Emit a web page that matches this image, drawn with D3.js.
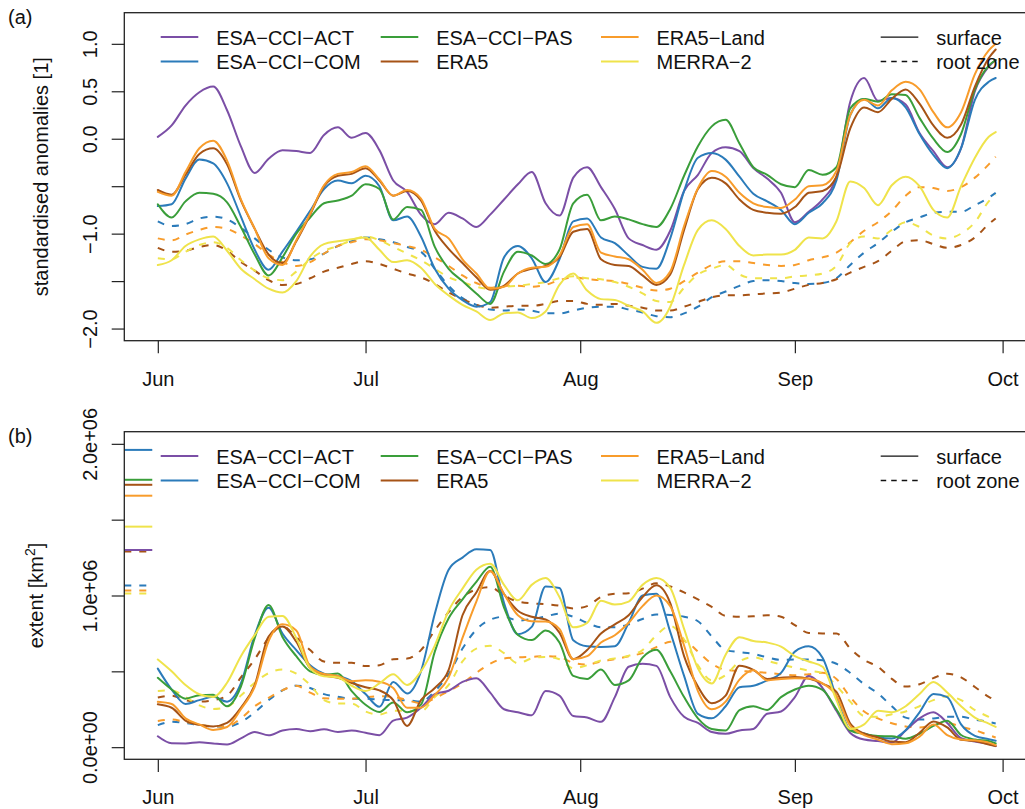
<!DOCTYPE html>
<html lang="en">
<head>
<meta charset="UTF-8">
<title>Soil moisture drought anomalies and extent</title>
<style>
  body { margin: 0; background: #fff; }
  svg { display: block; font-family: "Liberation Sans", Arial, Helvetica, sans-serif; }
</style>
</head>
<body>
<script src="https://cdn.jsdelivr.net/npm/d3@7"></script>
<script>
// days since 1 June (every 2nd day, last point = 30 Sep)
const days = d3.range(0, 121, 2).concat([121]);

const monthTicks = [0, 30, 61, 92, 122];
const monthNames = ["Jun", "Jul", "Aug", "Sep", "Oct"];

const products = ["ESA\u2212CCI\u2212ACT", "ESA\u2212CCI\u2212COM", "ESA\u2212CCI\u2212PAS", "ERA5", "ERA5\u2212Land", "MERRA\u22122"];
const colors = ["#7b4fa6", "#2b7bba", "#3a9e3a", "#a65316", "#f89c2b", "#efe34b"];

// (a) standardised anomalies, surface
const actAnom = [0.02,0.14,0.35,0.49,0.55,0.3,-0.08,-0.36,-0.21,-0.12,-0.13,-0.15,0.04,0.12,0.01,0.06,-0.12,-0.44,-0.56,-0.8,-0.9,-0.78,-0.84,-0.93,-0.8,-0.64,-0.48,-0.35,-0.68,-0.81,-0.41,-0.3,-0.51,-0.74,-1.05,-1.12,-1.17,-0.97,-0.55,-0.38,-0.15,-0.09,-0.13,-0.31,-0.42,-0.57,-0.88,-0.77,-0.64,-0.4,0.39,0.64,0.4,0.43,0.36,0.06,-0.13,-0.3,-0.1,0.5,0.76,0.83];
const comAnom = [-0.71,-0.69,-0.42,-0.22,-0.26,-0.47,-0.82,-1.17,-1.38,-1.19,-0.98,-0.76,-0.53,-0.44,-0.47,-0.39,-0.5,-0.86,-0.82,-1.03,-1.37,-1.58,-1.7,-1.77,-1.72,-1.25,-1.13,-1.26,-1.51,-1.27,-0.87,-0.84,-1.04,-1.1,-1.23,-1.35,-1.37,-1.05,-0.55,-0.2,-0.15,-0.22,-0.4,-0.58,-0.66,-0.75,-0.9,-0.78,-0.68,-0.44,0.25,0.42,0.32,0.43,0.33,0.05,-0.17,-0.31,-0.1,0.41,0.6,0.64];
const pasAnom = [-0.69,-0.83,-0.66,-0.57,-0.58,-0.67,-0.93,-1.22,-1.44,-1.25,-1.0,-0.83,-0.68,-0.65,-0.6,-0.48,-0.53,-0.85,-0.72,-0.75,-1.14,-1.37,-1.5,-1.63,-1.74,-1.4,-1.19,-1.23,-1.32,-1.17,-0.68,-0.59,-0.86,-0.82,-0.85,-0.9,-0.93,-0.74,-0.39,-0.08,0.13,0.2,-0.05,-0.3,-0.38,-0.48,-0.51,-0.33,-0.38,-0.3,0.32,0.42,0.39,0.47,0.46,0.22,0.0,-0.14,0.05,0.52,0.77,0.83];
const era5Anom = [-0.54,-0.59,-0.38,-0.16,-0.1,-0.27,-0.65,-0.95,-1.22,-1.31,-1.08,-0.8,-0.5,-0.39,-0.37,-0.31,-0.44,-0.6,-0.55,-0.65,-0.97,-1.16,-1.31,-1.46,-1.59,-1.55,-1.42,-1.37,-1.34,-1.25,-0.98,-0.95,-1.27,-1.33,-1.34,-1.44,-1.54,-1.43,-0.96,-0.53,-0.41,-0.47,-0.64,-0.75,-0.78,-0.79,-0.72,-0.57,-0.55,-0.4,0.11,0.33,0.28,0.42,0.52,0.37,0.14,0.01,0.15,0.55,0.85,0.94];
const landAnom = [-0.56,-0.6,-0.35,-0.1,-0.02,-0.23,-0.64,-0.95,-1.26,-1.33,-1.07,-0.79,-0.49,-0.37,-0.35,-0.29,-0.43,-0.6,-0.54,-0.63,-0.95,-1.05,-1.27,-1.42,-1.58,-1.56,-1.42,-1.36,-1.35,-1.23,-0.93,-0.9,-1.2,-1.24,-1.27,-1.38,-1.52,-1.4,-0.92,-0.52,-0.34,-0.4,-0.57,-0.68,-0.72,-0.73,-0.64,-0.5,-0.49,-0.34,0.25,0.41,0.35,0.51,0.6,0.52,0.28,0.12,0.28,0.68,0.93,1.0];
const merraAnom = [-1.33,-1.28,-1.13,-1.06,-1.03,-1.18,-1.37,-1.48,-1.58,-1.62,-1.5,-1.24,-1.11,-1.08,-1.06,-1.04,-1.17,-1.3,-1.28,-1.36,-1.53,-1.65,-1.75,-1.82,-1.91,-1.84,-1.83,-1.89,-1.82,-1.54,-1.42,-1.6,-1.69,-1.7,-1.76,-1.82,-1.94,-1.77,-1.33,-0.96,-0.86,-0.95,-1.13,-1.23,-1.22,-1.22,-1.17,-1.04,-1.05,-0.87,-0.45,-0.52,-0.7,-0.49,-0.4,-0.5,-0.75,-0.83,-0.5,-0.2,0.02,0.07];

// (a) standardised anomalies, root zone
const comRootAnom = [-0.87,-0.92,-0.9,-0.84,-0.82,-0.85,-0.94,-1.05,-1.17,-1.25,-1.28,-1.27,-1.21,-1.13,-1.08,-1.04,-1.06,-1.09,-1.14,-1.19,-1.37,-1.55,-1.68,-1.75,-1.8,-1.81,-1.8,-1.81,-1.84,-1.84,-1.81,-1.78,-1.77,-1.77,-1.8,-1.83,-1.87,-1.88,-1.84,-1.77,-1.67,-1.61,-1.55,-1.5,-1.49,-1.5,-1.52,-1.53,-1.52,-1.47,-1.33,-1.2,-1.1,-0.98,-0.88,-0.83,-0.78,-0.77,-0.77,-0.7,-0.62,-0.57];
const era5RootAnom = [-1.15,-1.19,-1.18,-1.14,-1.12,-1.18,-1.3,-1.39,-1.49,-1.54,-1.53,-1.47,-1.4,-1.36,-1.32,-1.29,-1.32,-1.37,-1.42,-1.46,-1.53,-1.62,-1.69,-1.75,-1.78,-1.77,-1.76,-1.76,-1.74,-1.71,-1.71,-1.74,-1.75,-1.74,-1.76,-1.78,-1.81,-1.81,-1.77,-1.72,-1.67,-1.65,-1.65,-1.64,-1.63,-1.62,-1.58,-1.54,-1.52,-1.48,-1.41,-1.35,-1.29,-1.18,-1.08,-1.07,-1.11,-1.15,-1.12,-1.04,-0.9,-0.84];
const landRootAnom = [-1.05,-1.07,-1.01,-0.96,-0.93,-0.95,-1.02,-1.11,-1.22,-1.3,-1.34,-1.3,-1.21,-1.13,-1.09,-1.06,-1.07,-1.1,-1.13,-1.17,-1.25,-1.34,-1.44,-1.52,-1.57,-1.55,-1.55,-1.56,-1.54,-1.49,-1.46,-1.48,-1.49,-1.5,-1.53,-1.57,-1.6,-1.58,-1.5,-1.41,-1.33,-1.29,-1.29,-1.31,-1.33,-1.34,-1.33,-1.28,-1.25,-1.2,-1.09,-0.97,-0.88,-0.76,-0.6,-0.51,-0.52,-0.55,-0.51,-0.41,-0.27,-0.19];
const merraRootAnom = [-1.26,-1.27,-1.19,-1.12,-1.09,-1.15,-1.28,-1.39,-1.47,-1.49,-1.4,-1.27,-1.18,-1.13,-1.07,-1.03,-1.07,-1.14,-1.21,-1.28,-1.37,-1.46,-1.51,-1.56,-1.58,-1.56,-1.55,-1.53,-1.51,-1.47,-1.45,-1.47,-1.48,-1.51,-1.56,-1.63,-1.71,-1.72,-1.57,-1.43,-1.37,-1.33,-1.43,-1.47,-1.47,-1.47,-1.45,-1.44,-1.42,-1.34,-1.1,-1.03,-1.05,-0.96,-0.88,-0.93,-1.02,-1.05,-1.0,-0.88,-0.66,-0.59];

// (b) drought extent, 10^6 km², surface
const actExtent = [0.072,0.026,0.025,0.032,0.024,0.018,0.058,0.1,0.078,0.11,0.12,0.105,0.118,0.1,0.11,0.095,0.079,0.175,0.195,0.26,0.35,0.372,0.43,0.455,0.36,0.25,0.23,0.21,0.37,0.34,0.205,0.195,0.167,0.33,0.53,0.55,0.536,0.33,0.2,0.16,0.1,0.088,0.11,0.12,0.22,0.235,0.33,0.47,0.39,0.24,0.094,0.05,0.04,0.03,0.11,0.19,0.23,0.16,0.06,0.038,0.02,0.007];
const comExtent = [0.518,0.38,0.285,0.31,0.332,0.3,0.42,0.74,0.92,0.749,0.64,0.54,0.485,0.47,0.435,0.35,0.266,0.43,0.354,0.5,0.88,1.17,1.25,1.305,1.3,0.95,0.745,0.793,1.06,1.05,0.705,0.665,0.66,0.665,0.82,1.0,1.012,0.76,0.47,0.22,0.19,0.27,0.395,0.405,0.44,0.49,0.63,0.665,0.59,0.33,0.115,0.09,0.065,0.057,0.112,0.23,0.35,0.33,0.15,0.075,0.053,0.042];
const pasExtent = [0.457,0.38,0.32,0.343,0.345,0.27,0.4,0.72,0.937,0.727,0.6,0.5,0.478,0.485,0.37,0.28,0.232,0.295,0.23,0.28,0.63,0.85,0.975,1.09,1.19,0.92,0.74,0.706,0.77,0.69,0.47,0.45,0.512,0.41,0.44,0.59,0.642,0.5,0.33,0.19,0.12,0.11,0.245,0.27,0.245,0.33,0.38,0.405,0.378,0.25,0.11,0.087,0.073,0.072,0.056,0.088,0.14,0.175,0.08,0.05,0.04,0.024];
const era5Extent = [0.283,0.26,0.175,0.147,0.137,0.16,0.26,0.41,0.73,0.795,0.695,0.52,0.474,0.458,0.423,0.395,0.375,0.31,0.14,0.31,0.39,0.51,0.87,1.02,1.162,1.01,0.9,0.86,0.842,0.755,0.58,0.64,0.75,0.81,0.87,0.99,1.067,0.95,0.6,0.4,0.29,0.34,0.537,0.51,0.45,0.458,0.463,0.452,0.419,0.365,0.156,0.09,0.064,0.037,0.033,0.095,0.17,0.13,0.048,0.04,0.018,0.007];
const landExtent = [0.299,0.285,0.19,0.15,0.114,0.133,0.25,0.4,0.7,0.81,0.77,0.53,0.482,0.47,0.435,0.441,0.432,0.39,0.26,0.26,0.345,0.46,0.72,0.96,1.16,1.01,0.87,0.83,0.828,0.78,0.58,0.6,0.69,0.738,0.82,0.93,1.0,0.93,0.67,0.37,0.25,0.3,0.445,0.507,0.44,0.45,0.455,0.452,0.42,0.34,0.14,0.08,0.05,0.02,0.026,0.07,0.15,0.08,0.05,0.045,0.03,0.013];
const merraExtent = [0.578,0.5,0.41,0.349,0.33,0.425,0.6,0.74,0.86,0.865,0.72,0.52,0.468,0.46,0.405,0.371,0.42,0.48,0.41,0.5,0.67,0.9,1.045,1.17,1.21,1.07,0.968,1.07,1.115,0.99,0.79,0.82,0.965,0.94,0.96,1.07,1.115,1.05,0.78,0.52,0.42,0.61,0.725,0.7,0.69,0.663,0.6,0.565,0.53,0.31,0.12,0.15,0.24,0.23,0.27,0.35,0.43,0.36,0.27,0.195,0.155,0.134];

// (b) drought extent, 10^6 km², root zone
const comRootExtent = [0.145,0.167,0.16,0.145,0.137,0.135,0.165,0.23,0.31,0.375,0.405,0.39,0.35,0.332,0.32,0.32,0.314,0.31,0.31,0.3,0.37,0.48,0.65,0.775,0.84,0.86,0.835,0.845,0.862,0.88,0.86,0.82,0.79,0.79,0.81,0.845,0.875,0.872,0.86,0.83,0.73,0.64,0.627,0.615,0.592,0.575,0.578,0.578,0.573,0.55,0.49,0.415,0.355,0.27,0.195,0.182,0.189,0.2,0.2,0.182,0.167,0.156];
const era5RootExtent = [0.327,0.34,0.31,0.3,0.31,0.34,0.46,0.58,0.72,0.797,0.725,0.64,0.565,0.556,0.556,0.535,0.54,0.58,0.584,0.64,0.77,0.89,0.99,1.04,1.055,1.0,0.96,0.948,0.943,0.933,0.915,0.93,0.99,1.011,1.015,1.045,1.08,1.06,1.02,0.975,0.925,0.865,0.86,0.863,0.87,0.86,0.804,0.753,0.75,0.75,0.65,0.575,0.53,0.45,0.4,0.415,0.455,0.484,0.46,0.397,0.332,0.31];
const landRootExtent = [0.173,0.182,0.166,0.15,0.137,0.138,0.19,0.27,0.325,0.375,0.405,0.36,0.322,0.32,0.32,0.33,0.336,0.332,0.31,0.29,0.322,0.37,0.42,0.49,0.55,0.585,0.592,0.596,0.6,0.595,0.555,0.545,0.565,0.58,0.6,0.62,0.66,0.695,0.7,0.63,0.55,0.51,0.503,0.497,0.49,0.481,0.474,0.481,0.49,0.45,0.33,0.235,0.19,0.158,0.137,0.13,0.145,0.16,0.134,0.112,0.079,0.064];
const merraRootExtent = [0.371,0.375,0.33,0.276,0.252,0.265,0.34,0.425,0.488,0.512,0.485,0.41,0.31,0.288,0.288,0.235,0.215,0.24,0.24,0.235,0.33,0.41,0.565,0.65,0.668,0.62,0.553,0.585,0.595,0.58,0.52,0.54,0.572,0.585,0.603,0.64,0.738,0.8,0.71,0.54,0.44,0.475,0.565,0.593,0.57,0.545,0.524,0.504,0.488,0.405,0.3,0.205,0.2,0.217,0.235,0.27,0.31,0.336,0.31,0.244,0.2,0.178];

// (b) reference extents drawn at the left edge, 10^6 km² (product order)
const refSurfaceExtent = [1.30, 1.96, 1.763, 1.73, 1.658, 1.454];
const refRootExtent = [null, 1.066, null, 1.29, 1.033, 1.013];

const W = 1025, H = 809;
const svg = d3.select("body").append("svg")
  .attr("width", W).attr("height", H)
  .attr("viewBox", [0, 0, W, H]);

const x = d3.scaleLinear().domain([-4.84, 125.84]).range([124.3, 1029.2]);
const dashLine = "7,8";

const panels = [
  {
    tag: "(a)", tagY: 23.5,
    yDomain: [-2.128, 1.328], yRange: [340.7, 12.7],
    ticks: [-2, -1.5, -1, -0.5, 0, 0.5, 1],
    labelled: [-2, -1, 0, 0.5, 1],
    fmt: v => d3.format(".1f")(v).replace("-", "\u2212"),
    title: "standardised anomalies [1]", titleX: 47.7,
    surface: [actAnom, comAnom, pasAnom, era5Anom, landAnom, merraAnom],
    root: [null, comRootAnom, null, era5RootAnom, landRootAnom, merraRootAnom],
    refs: false
  },
  {
    tag: "(b)", tagY: 442.5,
    yDomain: [-0.08, 2.08], yRange: [759.3, 431.7],
    ticks: [0, 0.5, 1, 1.5, 2],
    labelled: [0, 1, 2],
    fmt: v => (v * 1e6).toExponential(1).replace(/e([+-])(\d)$/, "e$10$2"),
    title: null, titleX: 43.3,
    surface: [actExtent, comExtent, pasExtent, era5Extent, landExtent, merraExtent],
    root: [null, comRootExtent, null, era5RootExtent, landRootExtent, merraRootExtent],
    refs: true
  }
];

panels.forEach(p => {
  const y = d3.scaleLinear().domain(p.yDomain).range(p.yRange);
  const top = p.yRange[1], bottom = p.yRange[0];
  const g = svg.append("g");

  const line = d3.line()
    .curve(d3.curveMonotoneX)
    .x((v, i) => x(days[i]))
    .y(v => y(v));

  // root zone (dashed) underneath
  p.root.forEach((vals, k) => {
    if (!vals) return;
    g.append("path")
      .datum(vals)
      .attr("d", line)
      .attr("fill", "none")
      .attr("stroke", colors[k])
      .attr("stroke-width", 2)
      .attr("stroke-dasharray", dashLine)
      .attr("stroke-linejoin", "round");
  });

  p.surface.forEach((vals, k) => {
    g.append("path")
      .datum(vals)
      .attr("d", line)
      .attr("fill", "none")
      .attr("stroke", colors[k])
      .attr("stroke-width", 2)
      .attr("stroke-linejoin", "round")
      .attr("stroke-linecap", "round");
  });

  // short reference marks at the left edge
  if (p.refs) {
    const x0 = x.range()[0], x1 = x(-0.8);
    refRootExtent.forEach((v, k) => {
      if (v == null) return;
      g.append("line")
        .attr("x1", x0).attr("x2", x1)
        .attr("y1", y(v)).attr("y2", y(v))
        .attr("stroke", colors[k]).attr("stroke-width", 2)
        .attr("stroke-dasharray", dashLine);
    });
    refSurfaceExtent.forEach((v, k) => {
      g.append("line")
        .attr("x1", x0).attr("x2", x1)
        .attr("y1", y(v)).attr("y2", y(v))
        .attr("stroke", colors[k]).attr("stroke-width", 2);
    });
  }

  // box
  g.append("rect")
    .attr("x", x.range()[0]).attr("y", top)
    .attr("width", x.range()[1] - x.range()[0])
    .attr("height", bottom - top)
    .attr("fill", "none").attr("stroke", "#222").attr("stroke-width", 1.3);

  // y axis
  const yAxis = g.append("g")
    .attr("transform", `translate(${x.range()[0]},0)`)
    .call(d3.axisLeft(y).tickValues(p.ticks).tickSize(12.6)
      .tickFormat(v => p.labelled.includes(v) ? p.fmt(v) : ""));
  yAxis.select(".domain").remove();
  yAxis.selectAll("line").attr("stroke", "#222").attr("stroke-width", 1.2);
  yAxis.selectAll("text")
    .attr("transform", "rotate(-90)")
    .attr("x", 0).attr("y", -27.6).attr("dy", 0)
    .attr("text-anchor", "middle")
    .attr("fill", "#111")
    .style("font-size", "20px")
    .style("font-family", "inherit");

  // x axis
  const xAxis = g.append("g")
    .attr("transform", `translate(0,${bottom})`)
    .call(d3.axisBottom(x).tickValues(monthTicks).tickSize(12.6)
      .tickFormat((v, i) => monthNames[i]));
  xAxis.select(".domain").remove();
  xAxis.selectAll("line").attr("stroke", "#222").attr("stroke-width", 1.2);
  xAxis.selectAll("text")
    .attr("y", 45).attr("dy", 0)
    .attr("fill", "#111")
    .style("font-size", "20px")
    .style("font-family", "inherit");

  // panel tag
  svg.append("text")
    .attr("x", 8).attr("y", p.tagY)
    .attr("font-size", 20).attr("fill", "#111")
    .text(p.tag);

  // y title
  const t = svg.append("text")
    .attr("transform", `translate(${p.titleX},${(top + bottom) / 2}) rotate(-90)`)
    .attr("text-anchor", "middle")
    .attr("font-size", 20).attr("fill", "#111");
  if (p.title) {
    t.text(p.title);
  } else {
    t.append("tspan").text("extent [km");
    t.append("tspan").attr("font-size", 14).attr("dy", -8).text("2");
    t.append("tspan").attr("dy", 8).text("]");
  }

  // legend
  const colX = [160.7, 380.7, 601, 880.7];
  const rowY = [top + 24.4, top + 48.8];
  const items = products.map((name, k) => ({name, color: colors[k], dash: null, col: Math.floor(k / 2), row: k % 2}))
    .concat([
      {name: "surface", color: "#111", dash: null, col: 3, row: 0},
      {name: "root zone", color: "#111", dash: "5.5,5", col: 3, row: 1}
    ]);
  const leg = g.append("g");
  items.forEach(it => {
    const lx = colX[it.col], ly = rowY[it.row];
    const isKey = it.col === 3;
    leg.append("line")
      .attr("x1", lx).attr("x2", lx + 37.6)
      .attr("y1", ly).attr("y2", ly)
      .attr("stroke", it.color)
      .attr("stroke-width", isKey ? 1.3 : 2)
      .attr("stroke-dasharray", it.dash);
    leg.append("text")
      .attr("x", lx + 55.5).attr("y", ly).attr("dy", "0.37em")
      .attr("font-size", 20).attr("fill", "#111")
      .text(it.name);
  });
});
</script>
</body>
</html>
